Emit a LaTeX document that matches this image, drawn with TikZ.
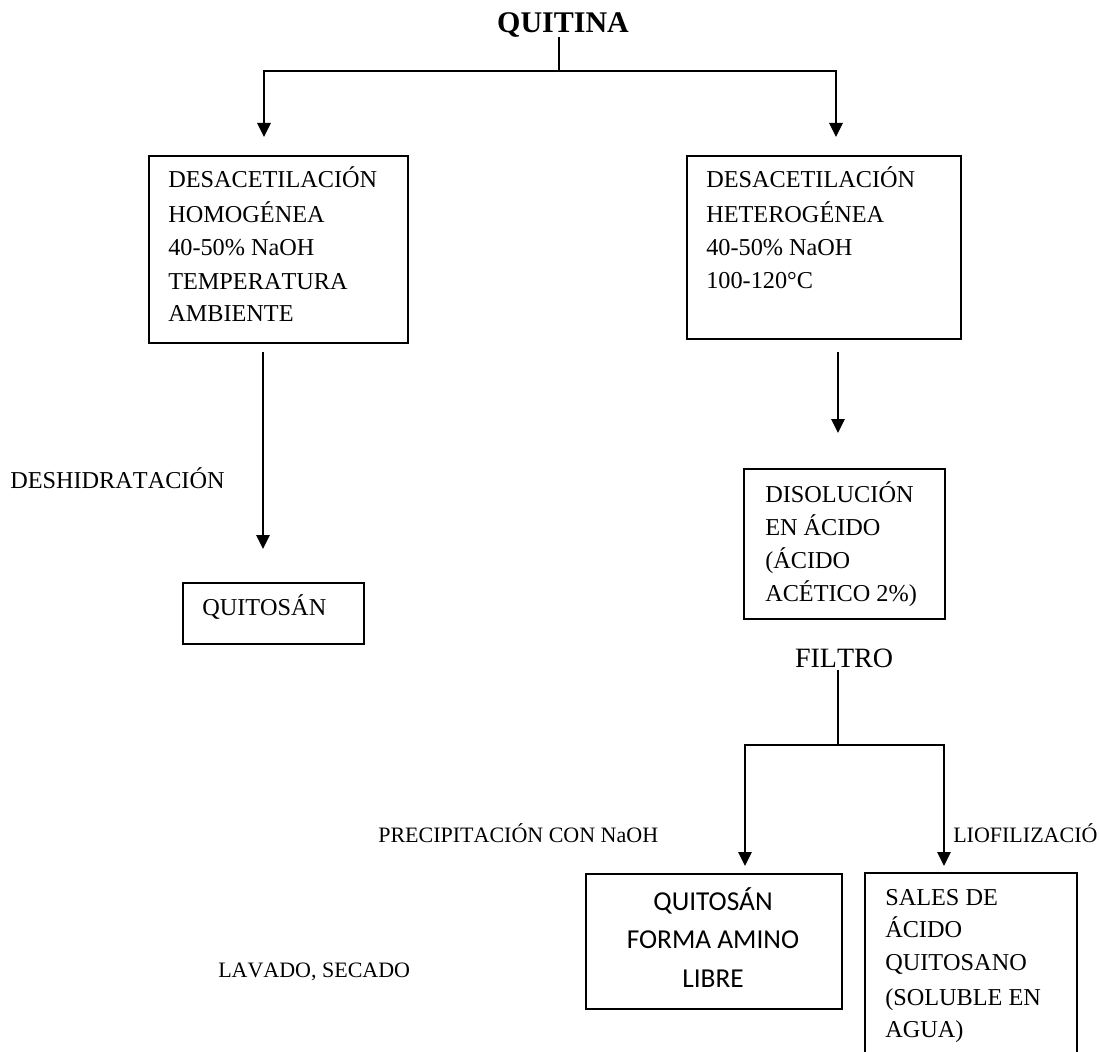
\documentclass[tikz,border=0pt]{standalone}
\usepackage{fontspec}
\setmainfont{Liberation Serif}[Kerning=Off]
\newfontfamily\calib{Carlito}
\usetikzlibrary{arrows.meta}
\tikzset{
  ln/.style={line width=1.4pt},
  arr/.style={line width=1.4pt,-{Triangle[length=10.5pt,width=10pt]}},
  boxn/.style={draw,line width=1.4pt,inner sep=0pt,anchor=north west},
  txt/.style={anchor=base west,inner sep=0pt,font=\fontsize{18.2}{22}\selectfont},
  lbl/.style={anchor=base west,inner sep=0pt,font=\fontsize{16.5}{20}\selectfont},
  sans/.style={anchor=base,inner sep=0pt,font=\calib\fontsize{20.5}{24}\selectfont}
}
\begin{document}
\begin{tikzpicture}[x=0.75pt,y=-0.75pt]
\clip (0,0) rectangle (1099,1052);
\fill[white] (0,0) rectangle (1099,1052);

% top
\node[anchor=base,inner sep=0pt,font=\bfseries\fontsize{22.5}{26}\selectfont] (q) at (563,33) {QUITINA};
\coordinate (qs) at (559,37);
\coordinate (j1) at (559,71);
\coordinate (t1) at (264,137);
\coordinate (t2) at (836,137);
\draw[ln] (qs) -- (j1);
\draw[arr] (j1) -| (t1);
\draw[arr] (j1) -| (t2);

% left box
\node[boxn,minimum width=259*0.75pt,minimum height=187*0.75pt] (b1) at (148,155) {};
\node[txt] (l1) at (168,188) {DESACETILACIÓN};
\node[txt] (l2) at (168,222) {HOMOGÉNEA};
\node[txt] (l3) at (168,255) {40-50\% NaOH};
\node[txt] (l4) at (168,289) {TEMPERATURA};
\node[txt] (l5) at (168,321) {AMBIENTE};

% right box
\node[boxn,minimum width=274*0.75pt,minimum height=183*0.75pt] (b2) at (686,155) {};
\node[txt] (r1) at (706,188) {DESACETILACIÓN};
\node[txt] (r2) at (706,222) {HETEROGÉNEA};
\node[txt] (r3) at (706,255) {40-50\% NaOH};
\node[txt] (r4) at (706,288) {100-120°C};

% left branch
\coordinate (la) at (263,352);
\coordinate (lb) at (263,549);
\draw[arr] (la) -- (lb);
\node[txt] (deshid) at (10,488) {DESHIDRATACIÓN};
\node[boxn,minimum width=181*0.75pt,minimum height=61*0.75pt] (b3) at (182,582) {};
\node[txt] (qt) at (202,615) {QUITOSÁN};

% right branch
\coordinate (ra) at (838,352);
\coordinate (rb) at (838,433);
\draw[arr] (ra) -- (rb);
\node[boxn,minimum width=201*0.75pt,minimum height=150*0.75pt] (b4) at (743,468) {};
\node[txt] (d1) at (765,502) {DISOLUCIÓN};
\node[txt] (d2) at (765,535) {EN ÁCIDO};
\node[txt] (d3) at (765,568) {(ÁCIDO};
\node[txt] (d4) at (765,601) {ACÉTICO 2\%)};
\node[anchor=base,inner sep=0pt,font=\fontsize{21}{25}\selectfont] (fil) at (844,667) {FILTRO};
\coordinate (fa) at (838,670);
\coordinate (j2) at (838,745);
\coordinate (t3) at (745,866);
\coordinate (t4) at (944,866);
\draw[ln] (fa) -- (j2);
\draw[arr] (j2) -| (t3);
\draw[arr] (j2) -| (t4);

\node[lbl] (prec) at (378,842) {PRECIPITACIÓN CON NaOH};
\node[lbl] (liof) at (953,842) {LIOFILIZACIÓ};
\node[lbl] (lav) at (218,977) {LAVADO, SECADO};

% bottom boxes
\node[boxn,minimum width=256*0.75pt,minimum height=135*0.75pt] (b5) at (585,873) {};
\node[sans] (s1) at (713,910) {QUITOSÁN};
\node[sans] (s2) at (713,948) {FORMA AMINO};
\node[sans] (s3) at (713,987) {LIBRE};

\node[boxn,minimum width=212*0.75pt,minimum height=200*0.75pt] (b6) at (864,872) {};
\node[txt] (g1) at (885,905) {SALES DE};
\node[txt] (g2) at (885,937) {ÁCIDO};
\node[txt] (g3) at (885,970) {QUITOSANO};
\node[txt] (g4) at (885,1005) {(SOLUBLE EN};
\node[txt] (g5) at (885,1037) {AGUA)};
\end{tikzpicture}
\end{document}
